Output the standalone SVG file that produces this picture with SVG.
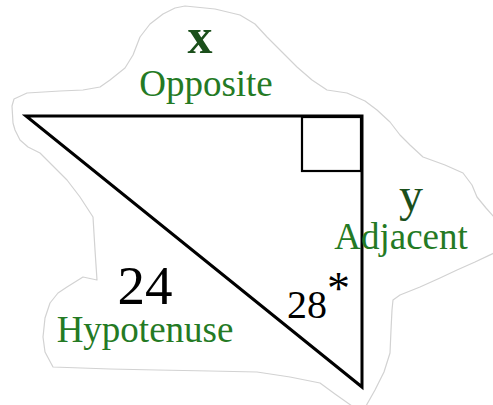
<svg xmlns="http://www.w3.org/2000/svg" width="493" height="405" viewBox="0 0 493 405">
<style>
.blob{fill:#fff;stroke:#d2d2d2;stroke-width:1.2;stroke-linejoin:round}
.edge{fill:none;stroke:#000;stroke-width:3;stroke-linecap:round;stroke-linejoin:miter}
.sq{fill:none;stroke:#000;stroke-width:2.2}
.lbl{font-family:"Liberation Serif","Times New Roman",serif;fill:#247a24;font-size:37px;text-anchor:middle}
.var{font-family:"Liberation Serif","Times New Roman",serif;fill:#1b4f1b;text-anchor:middle}
.num{font-family:"Liberation Serif","Times New Roman",serif;fill:#000}
</style>
<rect width="493" height="405" fill="#fff"/>
<path class="blob" d="M12,106 L14,99 L27,93 L60,91 L83,90 L100,87 L110,80 L125,68 L133,55 L140,37 L150,24 L163,14 L175,8 L185,6 L215,9 L240,15 L255,24 L267,37 L282,52 L297,67 L312,80 L327,90 L347,93 L365,101 L377,110 L390,122 L400,135 L410,145 L423,157 L445,165 L463,173 L472,185 L477,197 L486,208 L494,217 L494,253 L475,262 L457,270 L440,278 L420,287 L400,295 L393,300 L392,310 L391,330 L390,353 L384,372 L375,390 L366,406 L352,406 L335,394 L320,383 L290,377 L257,372 L210,371 L157,370 L110,369 L53,367 L45,352 L43,337 L45,318 L50,303 L58,293 L67,287 L83,277 L97,280 L95,250 L93,217 L80,197 L67,180 L52,165 L40,153 L28,147 L20,140 L15,130 L13,123 Z"/>
<g id="triangle">
<path class="edge" d="M26,116 L362,116 L362,387 Z"/>
<rect class="sq" x="302" y="117" width="59" height="54"/>
</g>
<g id="opposite">
<text class="var" x="200" y="53" font-size="50" font-weight="bold">x</text>
<text class="lbl" x="206" y="96">Opposite</text>
</g>
<g id="adjacent">
<text class="var" x="411" y="211" font-size="48">y</text>
<text class="lbl" x="401" y="249">Adjacent</text>
</g>
<g id="hypotenuse">
<text class="num" x="145" y="304" font-size="55" text-anchor="middle">24</text>
<text class="lbl" x="145" y="342">Hypotenuse</text>
</g>
<g id="angle">
<text class="num" x="287" y="318" font-size="40">28<tspan dy="-14" font-size="46">*</tspan></text>
</g>
</svg>
